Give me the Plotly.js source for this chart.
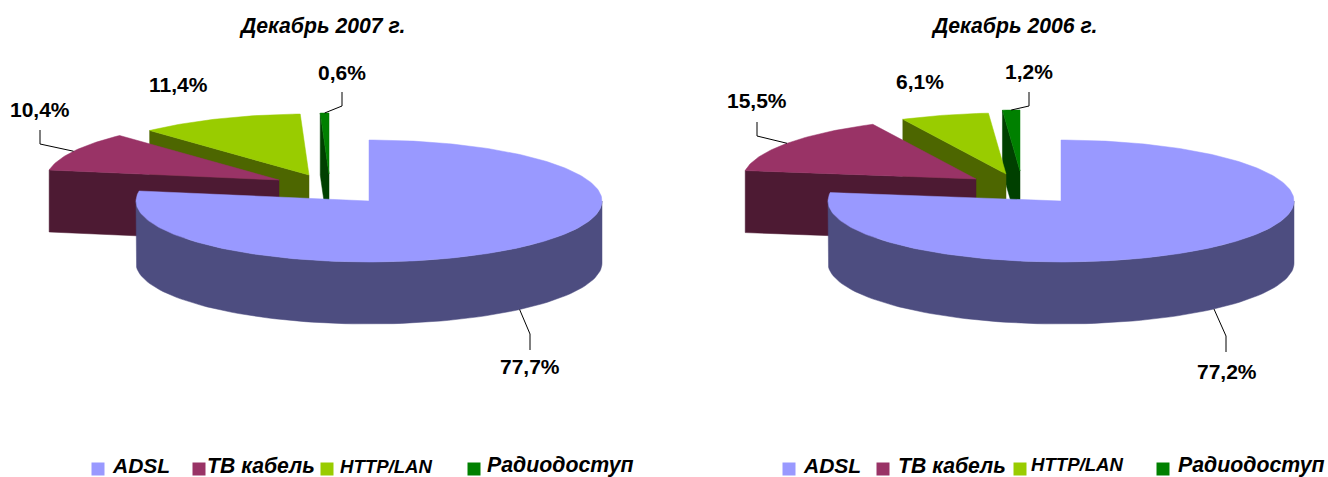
<!DOCTYPE html>
<html><head><meta charset="utf-8">
<script src="https://cdn.plot.ly/plotly-3.0.1.min.js"></script>
<style>html,body{margin:0;padding:0;background:#fff}#c{width:1328px;height:477px}</style>
</head><body><div id="c"></div>
<script>
// ---- data ----
const categories = ['ADSL', 'ТВ кабель', 'HTTP/LAN', 'Радиодоступ'];
const values2007 = [77.7, 10.4, 11.4, 0.6];
const values2006 = [77.2, 15.5, 6.1, 1.2];
const titles = ['Декабрь 2007 г.', 'Декабрь 2006 г.'];

// ---- styles ----
const topColors  = ['#9999FF', '#993366', '#99CC00', '#008000'];
const sideColors = ['#4D4D80', '#4D1A33', '#4D6600', '#004000'];
const FONT = '"Liberation Sans", Arial, sans-serif';

// ---- geometry (ellipse radii, depth, per-chart placement) ----
const RX = 233, RY = 61, DEPTH = 62;
const charts = [
  { values: values2007, title: titles[0], xa: 'x', ya: 'y', titleX: 322,
    apex: [[369,201],[279,180],[309,175],[329,174]],
    labelPos: [[530,366],[40,109],[178,84],[342,72]],
    leader: [[[530,334],[530,350]], [[40,144],[40,130]], null, [[342,106],[342,92]]],
    legendMarkerX: [98,199,327,474], legendTextX: [110,205,338,485],
    legendTextY: [465,465,466,465], legendMarkerY: 469 },
  { values: values2006, title: titles[1], xa: 'x2', ya: 'y2', titleX: 1013.5,
    apex: [[1061,201],[976,179],[1006,174],[1020,171]],
    labelPos: [[1227,371],[757,100],[920,81],[1029,71]],
    leader: [[[1226,336],[1226,352]], [[757,136],[757,122]], null, [[1029,106],[1029,92]]],
    legendMarkerX: [789,883,1020,1163], legendTextX: [801,896,1029,1176],
    legendTextY: [465,465,464,465], legendMarkerY: 469 }
];
const legendSizes = [21, 21.2, 18.6, 21.3];
const LABEL_SIZE = 21, TITLE_SIZE = 21.2;

const pt = (a, th) => [a[0] + RX * Math.sin(th), a[1] - RY * Math.cos(th)];
const rad = d => d * Math.PI / 180;

const traces = [], annotations = [];

charts.forEach(ch => {
  const total = ch.values.reduce((s, v) => s + v, 0);
  let acc = 0;
  const spans = ch.values.map(v => {
    const s = acc / total * 360; acc += v; return [s, acc / total * 360];
  });
  const poly = (xs, ys, color, name) => traces.push({
    type: 'scatter', mode: 'lines', x: xs, y: ys, fill: 'toself', fillcolor: color,
    line: { color: color, width: 0.5 }, name: name, xaxis: ch.xa, yaxis: ch.ya,
    hoverinfo: 'skip', showlegend: false
  });

  // back to front: last slice first
  for (let i = ch.values.length - 1; i >= 0; i--) {
    const [s, e] = spans[i], a = ch.apex[i], cat = categories[i];
    // side face at the starting radius
    const o = pt(a, rad(s));
    if (i > 0) {
      poly([a[0], o[0], o[0], a[0], a[0]],
           [a[1], o[1], o[1] + DEPTH, a[1] + DEPTH, a[1]], sideColors[i], cat);
    }
    // visible rim
    const r0 = Math.max(s, 90), r1 = Math.min(e, 270);
    if (r1 > r0) {
      const xs = [], ys = [];
      for (let d = r0; d <= r1; d += 2) { const p = pt(a, rad(d)); xs.push(p[0]); ys.push(p[1]); }
      for (let d = r1; d >= r0; d -= 2) { const p = pt(a, rad(d)); xs.push(p[0]); ys.push(p[1] + DEPTH); }
      xs.push(xs[0]); ys.push(ys[0]);
      poly(xs, ys, sideColors[i], cat);
    }
    // top face
    const xs = [a[0]], ys = [a[1]];
    for (let d = s; d < e; d += 1) { const p = pt(a, rad(d)); xs.push(p[0]); ys.push(p[1]); }
    const pe = pt(a, rad(e)); xs.push(pe[0], a[0]); ys.push(pe[1], a[1]);
    poly(xs, ys, topColors[i], cat);
  }

  // leader lines + value labels
  ch.values.forEach((v, i) => {
    const [s, e] = spans[i], a = ch.apex[i], mid = rad((s + e) / 2);
    const start = pt(a, mid);
    if (Math.cos(mid) < 0) start[1] += DEPTH;
    if (ch.leader[i]) {
      const path = [start, ...ch.leader[i]];
      traces.push({ type: 'scatter', mode: 'lines', x: path.map(p => p[0]), y: path.map(p => p[1]),
        line: { color: '#000', width: 1 }, xaxis: ch.xa, yaxis: ch.ya, hoverinfo: 'skip', showlegend: false });
    }
    annotations.push({ xref: ch.xa, yref: ch.ya, x: ch.labelPos[i][0], y: ch.labelPos[i][1],
      text: '<b>' + v.toFixed(1).replace('.', ',') + '%</b>', showarrow: false,
      font: { family: FONT, size: LABEL_SIZE, color: '#000' } });
  });

  // chart title
  annotations.push({ xref: ch.xa, yref: ch.ya, x: ch.titleX, y: 25.5, text: '<b><i>' + ch.title + '</i></b>',
    showarrow: false, font: { family: FONT, size: TITLE_SIZE, color: '#000' } });

  // legend row
  categories.forEach((c, i) => {
    traces.push({ type: 'scatter', mode: 'markers', x: [ch.legendMarkerX[i]], y: [ch.legendMarkerY],
      marker: { symbol: 'square', size: 13, color: topColors[i] }, name: c,
      xaxis: ch.xa, yaxis: ch.ya, hoverinfo: 'skip', showlegend: false, cliponaxis: false });
    annotations.push({ xref: ch.xa, yref: ch.ya, x: ch.legendTextX[i], y: ch.legendTextY[i], xanchor: 'left',
      text: '<b><i>' + c + '</i></b>', showarrow: false,
      font: { family: FONT, size: legendSizes[i], color: '#000' } });
  });
});

const ax = (range, domain, anchor) => ({ range, domain, anchor, visible: false, fixedrange: true });
const layout = {
  width: 1328, height: 477, margin: { l: 0, r: 0, t: 0, b: 0 },
  paper_bgcolor: '#fff', plot_bgcolor: '#fff', showlegend: false, hovermode: false,
  xaxis: ax([0, 664], [0, 0.5], 'y'), yaxis: ax([477, 0], [0, 1], 'x'),
  xaxis2: ax([664, 1328], [0.5, 1], 'y2'), yaxis2: ax([477, 0], [0, 1], 'x2'),
  annotations
};
Plotly.newPlot('c', traces, layout, { displayModeBar: false, staticPlot: true });
</script></body></html>
